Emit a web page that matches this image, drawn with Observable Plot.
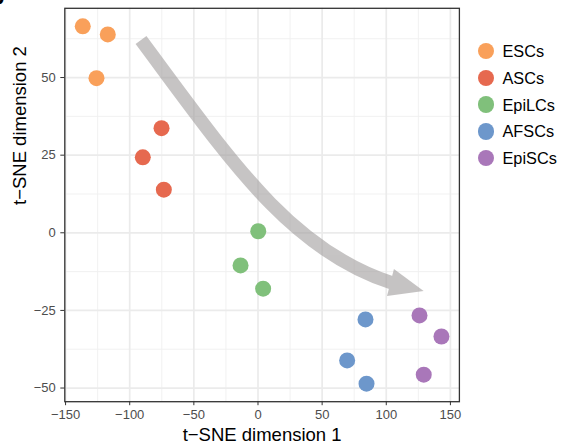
<!DOCTYPE html>
<html><head><meta charset="utf-8">
<script src="https://cdn.jsdelivr.net/npm/d3@7"></script>
<script src="https://cdn.jsdelivr.net/npm/@observablehq/plot@0.6"></script>
<style>
html,body{margin:0;padding:0;background:#fff;overflow:hidden;}
#wrap{position:relative;width:562px;height:444px;font-family:"Liberation Sans",Arial,sans-serif;}
#legend{position:absolute;left:0;top:0;}
.item{position:absolute;height:20px;white-space:nowrap;}
.sw{position:absolute;width:16.5px;height:16.5px;border-radius:50%;left:0;top:1.75px;}
.lab{position:absolute;left:25px;top:0;font-size:16.3px;line-height:20px;color:#000;}
#tag{position:absolute;left:-9px;top:-16px;font-size:22px;font-weight:bold;color:#000;}
</style></head>
<body><div id="wrap"><div id="tag">b</div><div id="legend"></div></div>
<script>
const groups = ["ESCs", "ASCs", "EpiLCs", "AFSCs", "EpiSCs"];
const colors = ["#F9A05A", "#E6694F", "#80C07B", "#6D97CB", "#A977B9"];

const pointGroup = ["ESCs", "ESCs", "ESCs", "ASCs", "ASCs", "ASCs", "EpiLCs", "EpiLCs", "EpiLCs", "AFSCs", "AFSCs", "AFSCs", "EpiSCs", "EpiSCs", "EpiSCs"];
const pointX = [-136.6, -117.1, -125.9, -75.2, -89.8, -73.4, 0.2, -13.6, 4.0, 83.8, 69.5, 84.6, 125.9, 143.0, 129.2];
const pointY = [66.5, 63.9, 49.8, 33.7, 24.3, 13.9, 0.5, -10.5, -18.0, -27.9, -41.1, -48.6, -26.6, -33.4, -45.7];

const xTicks = [-150, -100, -50, 0, 50, 100, 150];
const yTicks = [-50, -25, 0, 25, 50];
const xMinor = [-125, -75, -25, 25, 75, 125];
const yMinor = [-37.5, -12.5, 12.5, 37.5, 62.5];
const xDomain = [-150.6, 157];
const yDomain = [-54.4, 72.3];

// trend arrow (data units): cubic Bezier start, two controls, end of shaft; then tip
const arrowX = [-90.8, -21.4, 25.3, 104.8];
const arrowY = [61.9, 23.3, -5.7, -16.3];
const arrowTip = [129.5, -18.9];

const xTitle = "t\u2212SNE dimension 1";
const yTitle = "t\u2212SNE dimension 2";

const points = pointX.map((x, i) => ({x, y: pointY[i], group: pointGroup[i]}));

function arrowMark(index, scales, values, dimensions, context) {
  const sx = scales.x, sy = scales.y;
  const p = arrowX.map((x, i) => [sx(x), sy(arrowY[i])]);
  const tip = [sx(arrowTip[0]), sy(arrowTip[1])];
  const g = d3.create("svg:g").attr("opacity", 0.6);
  const path = d3.path();
  path.moveTo(p[0][0], p[0][1]);
  path.bezierCurveTo(p[1][0], p[1][1], p[2][0], p[2][1], p[3][0], p[3][1]);
  g.append("path")
    .attr("d", path.toString())
    .attr("fill", "none").attr("stroke", "#a09c9c")
    .attr("stroke-width", 13.5).attr("stroke-linecap", "butt");
  const base = p[3];
  const dx = tip[0] - base[0], dy = tip[1] - base[1];
  const len = Math.hypot(dx, dy);
  const nx = -dy / len, ny = dx / len, hw = 14;
  const bx = base[0] - dx / len * 1.5, by = base[1] - dy / len * 1.5;
  g.append("path")
    .attr("d", `M${bx + nx * hw},${by + ny * hw}L${tip[0]},${tip[1]}L${bx - nx * hw},${by - ny * hw}Z`)
    .attr("fill", "#a09c9c");
  return g.node();
}

const plot = Plot.plot({
  width: 562, height: 444,
  marginLeft: 64.3, marginRight: 103.1, marginTop: 7.8, marginBottom: 42.8,
  x: {domain: xDomain},
  y: {domain: yDomain},
  color: {domain: groups, range: colors},
  style: {fontFamily: "Liberation Sans, Arial, sans-serif", fontSize: "13px", background: "white", overflow: "visible"},
  marks: [
    Plot.ruleX(xMinor, {stroke: "#EFEFEF", strokeWidth: 0.9}),
    Plot.ruleY(yMinor, {stroke: "#EFEFEF", strokeWidth: 0.9}),
    Plot.ruleX(xTicks, {stroke: "#EBEBEB", strokeWidth: 1.7}),
    Plot.ruleY(yTicks, {stroke: "#EBEBEB", strokeWidth: 1.7}),
    arrowMark,
    Plot.dot(points, {x: "x", y: "y", fill: "group", r: 8}),
    Plot.frame({stroke: "#333333", strokeWidth: 1.3}),
    Plot.axisX({ticks: xTicks, tickSize: 4, tickPadding: 4, stroke: "#333333", fill: "#4D4D4D", label: null, fontSize: 13}),
    Plot.axisY({ticks: yTicks, tickSize: 4, tickPadding: 5, stroke: "#333333", fill: "#4D4D4D", label: null, fontSize: 13}),
    Plot.text([xTitle], {text: d => d, frameAnchor: "bottom", lineAnchor: "bottom", dy: 39.5, fontSize: 18.5, fill: "black"}),
    Plot.text([yTitle], {text: d => d, frameAnchor: "left", lineAnchor: "bottom", rotate: -90, dx: -39.3, fontSize: 18.5, fill: "black"})
  ]
});
document.getElementById("wrap").prepend(plot);
plot.style.position = "absolute"; plot.style.left = "0"; plot.style.top = "0";

const legend = document.getElementById("legend");
groups.forEach((g, i) => {
  const it = document.createElement("div");
  it.className = "item";
  it.style.left = "477.5px";
  it.style.top = (41 + i * 26.8) + "px";
  const sw = document.createElement("span");
  sw.className = "sw"; sw.style.background = colors[i];
  const lab = document.createElement("span");
  lab.className = "lab"; lab.textContent = g;
  it.append(sw, lab);
  legend.append(it);
});
</script>
</body></html>
